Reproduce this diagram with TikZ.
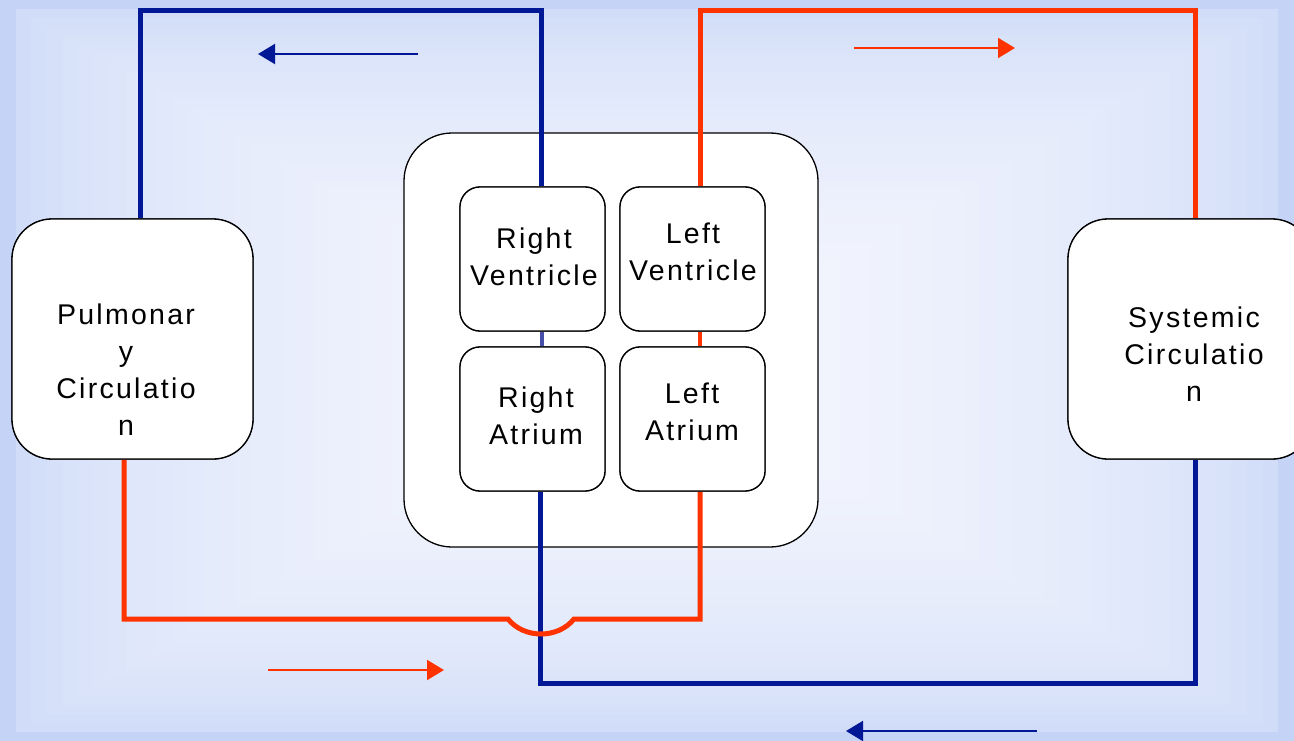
\documentclass[tikz,border=0pt]{standalone}
\usepackage{fontspec}
\setmainfont{Liberation Sans}
\newfontfamily\lblfont[LetterSpace=8]{Liberation Sans}
\usetikzlibrary{arrows.meta}
\definecolor{bgout}{RGB}{196,211,246}
\definecolor{bgin}{RGB}{247,248,254}
\definecolor{vein}{RGB}{0,24,150}
\definecolor{artery}{RGB}{255,51,0}
\definecolor{septumblue}{RGB}{70,80,170}
\tikzset{
  box/.style={draw=black, line width=1.3pt, fill=white, rounded corners=20pt, inner sep=0pt},
  bigbox/.style={box, rounded corners=40pt},
  label/.style={align=center, inner sep=0pt, font=\lblfont\fontsize{28.5}{37}\selectfont},
  veinline/.style={draw=vein, line width=5pt},
  arteryline/.style={draw=artery, line width=5pt},
  flowarrow/.style={line width=2pt, -{Triangle[length=17pt,width=20pt]}},
}
\begin{document}
\begin{tikzpicture}[x=1pt,y=-1pt]
\useasboundingbox (0,0) rectangle (1294,741);
% background rectangular gradient
\foreach \i in {0,...,40}{
  \pgfmathsetmacro\f{\i/40*0.97}
  \pgfmathsetmacro\p{100*min(1,(\i/40)^0.4)}
  \fill[bgin!\p!bgout] ({647*\f},{370.5*\f}) rectangle ({1294-647*\f},{741-370.5*\f});
}
% heart
\node[box, rounded corners=48pt, minimum width=414pt, minimum height=414pt] (heart) at (611,340) {};
% coordinates for bends
\coordinate (ptop) at (300,11);
\coordinate (stop) at (900,11);
\coordinate (sbot) at (900,683);
\coordinate (hopL) at (508,619);
\coordinate (hopR) at (574,619);
% chamber and circulation boxes
\node[box, minimum width=145pt, minimum height=144pt] (rv) at (532.5,259) {};
\node[box, minimum width=145pt, minimum height=144pt] (lv) at (692.5,259) {};
\node[box, minimum width=145pt, minimum height=144pt] (ra) at (532.5,419) {};
\node[box, minimum width=145pt, minimum height=144pt] (la) at (692.5,419) {};
\node[bigbox, minimum width=241pt, minimum height=240pt] (pulm) at (132.5,339) {};
\node[bigbox, minimum width=244pt, minimum height=240pt] (sys) at (1190,339) {};
% circulation lines
\draw[veinline] ([xshift=7.5pt]pulm.north) |- (ptop) -| ([xshift=8.5pt]rv.north);
\draw[arteryline] ([xshift=7.5pt]lv.north) |- (stop) -| ([xshift=5pt]sys.north);
\draw[veinline] ([xshift=5pt]sys.south) |- (sbot) -| ([xshift=7.5pt]ra.south);
\draw[arteryline] ([xshift=-8.5pt]pulm.south) |- (hopL) .. controls (524,639) and (558,639) .. (hopR) -| ([xshift=7.5pt]la.south);
% redraw boxes above lines
\node[box, minimum width=145pt, minimum height=144pt] at (rv) {};
\node[box, minimum width=145pt, minimum height=144pt] at (lv) {};
\node[box, minimum width=145pt, minimum height=144pt] at (ra) {};
\node[box, minimum width=145pt, minimum height=144pt] at (la) {};
\node[bigbox, minimum width=241pt, minimum height=240pt] at (pulm) {};
\node[bigbox, minimum width=244pt, minimum height=240pt] at (sys) {};
% septum connectors
\draw[draw=septumblue, line width=3.5pt] ([xshift=9.5pt]rv.south) -- ([xshift=9.5pt]ra.north);
\draw[draw=artery, line width=3.5pt] ([xshift=7.5pt]lv.south) -- ([xshift=7.5pt]la.north);
% labels
\node[label] (rvt) at (534,257) {Right\\Ventricle};
\node[label] (lvt) at (693,252) {Left\\Ventricle};
\node[label] (rat) at (536,416) {Right\\Atrium};
\node[label] (lat) at (692,412) {Left\\Atrium};
\node[label] (pult) at (126,370) {Pulmonar\\y\\Circulatio\\n};
\node[label] (syst) at (1194,354) {Systemic\\Circulatio\\n};
% flow arrows
\coordinate (a1s) at (418,54); \coordinate (a1e) at (258,54);
\coordinate (a2s) at (854,48); \coordinate (a2e) at (1015,48);
\coordinate (a3s) at (268,670); \coordinate (a3e) at (444,670);
\coordinate (a4s) at (1037,731); \coordinate (a4e) at (846,731);
\draw[flowarrow, vein] (a1s) -- (a1e);
\draw[flowarrow, artery] (a2s) -- (a2e);
\draw[flowarrow, artery] (a3s) -- (a3e);
\draw[flowarrow, vein] (a4s) -- (a4e);
\end{tikzpicture}
\end{document}
